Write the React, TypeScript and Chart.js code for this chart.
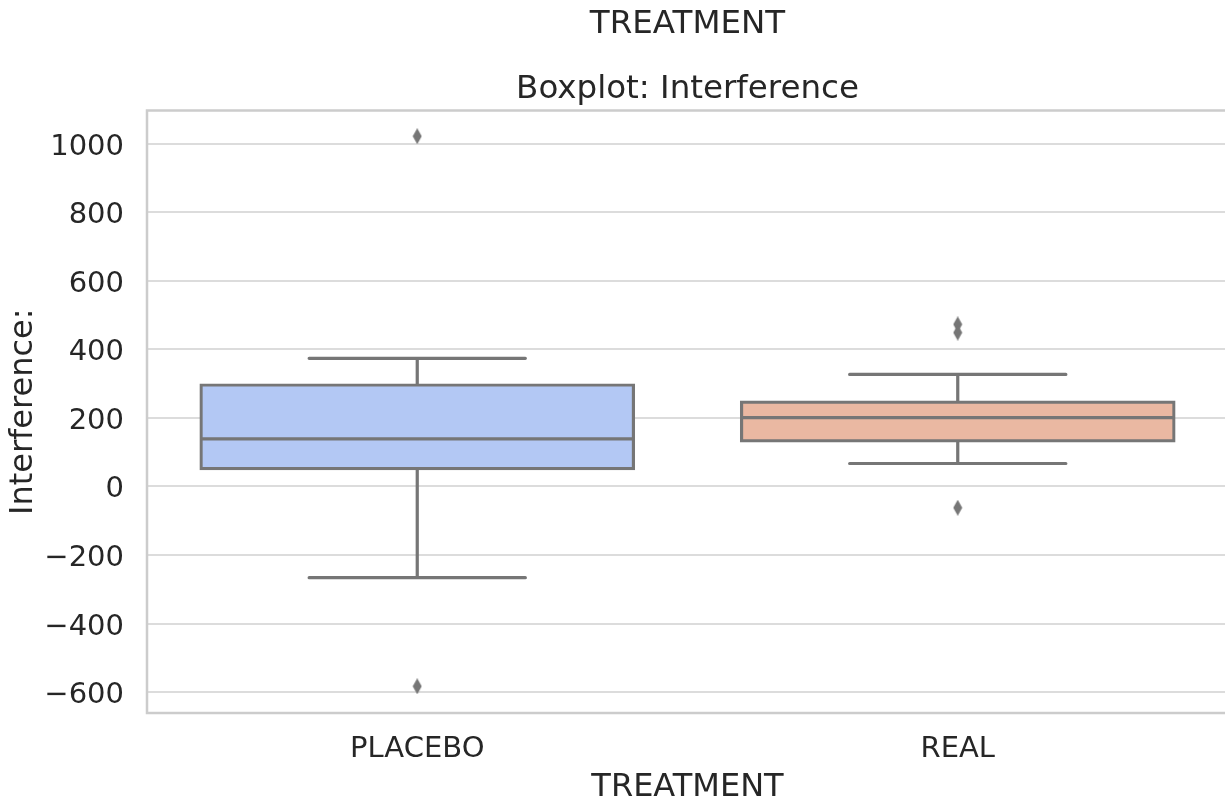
import React, { useEffect, useRef } from 'react';
import { Chart, registerables } from 'chart.js';

Chart.register(...registerables);

// ---- data ----
const categories = ['PLACEBO', 'REAL'];
const q1Values = [52, 133];
const medianValues = [139, 201];
const q3Values = [296, 246];
const whiskerLow = [-266, 67];
const whiskerHigh = [374, 327];
const placeboOutliers = [1022, -583];
const realOutliers = [473, 449, -62];
const yTickValues = [-600, -400, -200, 0, 200, 400, 600, 800, 1000];
const yMin = -661;
const yMax = 1097;

// ---- style ----
const FONT = 'DejaVu Sans';
const TEXT = '#262626';
const GRAY = '#767676';
const LW = 3.2;
const boxColors = ['#b3c8f4', '#eab8a2'];

function makeDiamond(): HTMLCanvasElement {
  const c = document.createElement('canvas');
  c.width = 10;
  c.height = 16;
  const g = c.getContext('2d')!;
  g.fillStyle = GRAY;
  g.beginPath();
  g.moveTo(5, 0);
  g.lineTo(9.5, 8);
  g.lineTo(5, 16);
  g.lineTo(0.5, 8);
  g.closePath();
  g.fill();
  return c;
}

const boxPlugin = {
  id: 'boxDetails',
  beforeDatasetsDraw(chart: any) {
    const meta = chart.getDatasetMeta(0);
    const y = chart.scales.y;
    const ctx = chart.ctx;
    ctx.save();
    ctx.strokeStyle = GRAY;
    ctx.lineWidth = LW;
    ctx.lineCap = 'round';
    meta.data.forEach((bar: any, i: number) => {
      const x = bar.x;
      const half = bar.width / 4;
      const yHi = y.getPixelForValue(whiskerHigh[i]);
      const yLo = y.getPixelForValue(whiskerLow[i]);
      const yQ3 = y.getPixelForValue(q3Values[i]);
      const yQ1 = y.getPixelForValue(q1Values[i]);
      ctx.beginPath();
      ctx.moveTo(x, yQ3);
      ctx.lineTo(x, yHi);
      ctx.moveTo(x - half, yHi);
      ctx.lineTo(x + half, yHi);
      ctx.moveTo(x, yQ1);
      ctx.lineTo(x, yLo);
      ctx.moveTo(x - half, yLo);
      ctx.lineTo(x + half, yLo);
      ctx.stroke();
    });
    ctx.restore();
  },
  afterDatasetsDraw(chart: any) {
    const meta = chart.getDatasetMeta(0);
    const y = chart.scales.y;
    const ctx = chart.ctx;
    ctx.save();
    ctx.strokeStyle = GRAY;
    ctx.lineWidth = LW;
    meta.data.forEach((bar: any, i: number) => {
      const ym = y.getPixelForValue(medianValues[i]);
      ctx.beginPath();
      ctx.moveTo(bar.x - bar.width / 2, ym);
      ctx.lineTo(bar.x + bar.width / 2, ym);
      ctx.stroke();
    });
    ctx.restore();
  },
  afterDraw(chart: any) {
    const { left, top, right, bottom } = chart.chartArea;
    const ctx = chart.ctx;
    ctx.save();
    ctx.strokeStyle = '#cccccc';
    ctx.lineWidth = 2.5;
    ctx.strokeRect(left, top, right - left, bottom - top);
    ctx.restore();
  },
};

export default function App() {
  const ref = useRef<HTMLCanvasElement>(null);

  useEffect(() => {
    if (!ref.current) return;
    const diamond = makeDiamond();
    const outliers = [
      ...placeboOutliers.map((v) => ({ x: categories[0], y: v })),
      ...realOutliers.map((v) => ({ x: categories[1], y: v })),
    ];
    const chart = new Chart(ref.current, {
      type: 'bar',
      data: {
        labels: categories,
        datasets: [
          {
            type: 'bar',
            data: categories.map((_, i) => [q1Values[i], q3Values[i]]) as any,
            backgroundColor: boxColors,
            borderColor: GRAY,
            borderWidth: LW,
            inflateAmount: LW / 2,
            borderSkipped: false,
            barPercentage: 0.8,
            categoryPercentage: 1,
            order: 2,
          } as any,
          {
            type: 'line',
            data: outliers as any,
            showLine: false,
            pointStyle: diamond as any,
            pointRadius: 5,
            backgroundColor: GRAY,
            borderColor: GRAY,
            order: 1,
          } as any,
        ],
      },
      options: {
        responsive: false,
        animation: false,
        devicePixelRatio: 1,
        layout: { padding: 0, autoPadding: false },
        plugins: {
          legend: { display: false },
          tooltip: { enabled: false },
          title: {
            display: true,
            fullSize: false,
            text: 'TREATMENT',
            color: TEXT,
            font: { family: FONT, size: 32.5, weight: 'normal' },
            padding: { top: 5, bottom: 25.5 },
          },
          subtitle: {
            display: true,
            fullSize: false,
            text: 'Boxplot: Interference',
            color: TEXT,
            font: { family: FONT, size: 32.5, weight: 'normal' },
            padding: { top: 0.8, bottom: 1.2 },
          },
        },
        scales: {
          x: {
            type: 'category',
            offset: true,
            grid: { display: false },
            border: { display: false },
            ticks: { color: TEXT, font: { family: FONT, size: 29 }, padding: 11 },
            title: {
              display: true,
              text: 'TREATMENT',
              color: TEXT,
              font: { family: FONT, size: 32 },
              padding: { top: 0, bottom: -7.6 },
            },
            afterFit: (s: any) => {
              s.height = 86;
            },
          },
          y: {
            min: yMin,
            max: yMax,
            grid: { color: '#dcdcdc', lineWidth: 2, drawTicks: false },
            border: { display: false },
            ticks: {
              color: TEXT,
              font: { family: FONT, size: 29 },
              padding: 23,
              labelOffset: 3.5,
              callback: (v: any) => (Number(v) < 0 ? '\u2212' + Math.abs(Number(v)) : String(v)),
            },
            afterBuildTicks: (s: any) => {
              s.ticks = yTickValues.map((v) => ({ value: v }));
            },
            title: {
              display: true,
              text: 'Interference:',
              color: TEXT,
              font: { family: FONT, size: 32 },
              padding: { top: 4, bottom: 0 },
            },
            afterFit: (s: any) => {
              s.width = 147;
            },
          },
        },
      } as any,
      plugins: [boxPlugin],
    });
    return () => chart.destroy();
  }, []);

  return (
    <div
      style={{
        position: 'fixed',
        left: 0,
        top: 0,
        width: 1225,
        height: 799,
        overflow: 'hidden',
        background: '#fff',
      }}
    >
      <canvas ref={ref} width={1228} height={799} style={{ display: 'block', width: 1228, height: 799 }} />
    </div>
  );
}
